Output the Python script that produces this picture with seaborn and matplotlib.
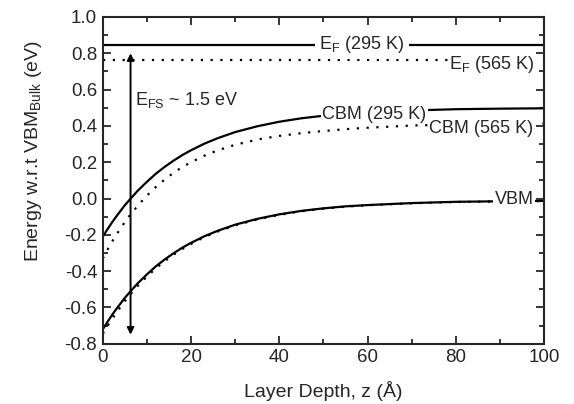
import numpy as np
import pandas as pd
import matplotlib
matplotlib.use("Agg")
import matplotlib.pyplot as plt
from matplotlib.ticker import MultipleLocator, FormatStrFormatter
import seaborn as sns

# Data (Layer depth in Angstrom, energies in eV)
z = [0, 1, 2, 3, 4, 5, 6, 8, 10, 12, 14, 16, 18, 20, 23, 26, 30, 35, 40,
     45, 50, 55, 60, 70, 80, 90, 100]
cbm_295 = [-0.21, -0.172, -0.135, -0.101, -0.069, -0.037, -0.009, 0.045, 0.092,
           0.136, 0.174, 0.208, 0.239, 0.266, 0.302, 0.332, 0.366, 0.398, 0.423,
           0.442, 0.456, 0.467, 0.474, 0.485, 0.492, 0.495, 0.497]
cbm_565 = [-0.33, -0.285, -0.242, -0.203, -0.165, -0.13, -0.097, -0.037, 0.016,
           0.063, 0.104, 0.141, 0.173, 0.2, 0.236, 0.265, 0.296, 0.325, 0.345,
           0.36, 0.372, 0.382, 0.39, 0.402, 0.408, 0.411, 0.413]
vbm_295 = [-0.72, -0.682, -0.645, -0.611, -0.579, -0.547, -0.519, -0.465, -0.418,
           -0.374, -0.336, -0.302, -0.271, -0.244, -0.208, -0.178, -0.144, -0.112,
           -0.087, -0.068, -0.054, -0.043, -0.036, -0.025, -0.018, -0.015, -0.013]
vbm_565 = [-0.745, -0.705, -0.667, -0.632, -0.598, -0.565, -0.535, -0.479, -0.43,
           -0.385, -0.345, -0.31, -0.278, -0.25, -0.213, -0.182, -0.148, -0.115,
           -0.09, -0.07, -0.056, -0.045, -0.037, -0.026, -0.019, -0.016, -0.014]
ef_295 = 0.848
ef_565 = 0.762
arrow_z = 6.3
arrow_top = 0.80
arrow_bottom = -0.75

df = pd.DataFrame({"z": z, "CBM (295 K)": cbm_295, "CBM (565 K)": cbm_565,
                   "VBM (295 K)": vbm_295, "VBM (565 K)": vbm_565})

sns.set_style("ticks")
plt.rcParams["font.family"] = ["Liberation Sans", "DejaVu Sans"]
plt.rcParams["mathtext.fontset"] = "custom"
plt.rcParams["mathtext.rm"] = "Liberation Sans"
plt.rcParams["mathtext.it"] = "Liberation Sans"

fig, ax = plt.subplots(figsize=(5.74, 4.04), dpi=100)
fig.subplots_adjust(left=0.179, right=0.948, top=0.958, bottom=0.149)

dots = (0, (1, 3.4))
sns.lineplot(data=df, x="z", y="CBM (295 K)", color="black", lw=1.6, ax=ax)
sns.lineplot(data=df, x="z", y="CBM (565 K)", color="black", lw=1.6, ls=dots, ax=ax)
sns.lineplot(data=df, x="z", y="VBM (295 K)", color="black", lw=1.6, ax=ax)
sns.lineplot(data=df, x="z", y="VBM (565 K)", color="black", lw=1.6, ls=dots, ax=ax)
ax.axhline(ef_295, color="black", lw=1.6)
ax.axhline(ef_565, color="black", lw=1.6, ls=dots)

ax.annotate("", xy=(arrow_z, arrow_top), xytext=(arrow_z, arrow_bottom),
            arrowprops=dict(arrowstyle="<|-|>", color="black", lw=1.4,
                            mutation_scale=10, shrinkA=0, shrinkB=0))

fs = 13
box = dict(facecolor="white", edgecolor="none", pad=1.0)
ax.text(58.7, ef_295, r"E$_{\rm F}$ (295 K)", fontsize=fs, ha="center", va="center",
        bbox=dict(facecolor="white", edgecolor="none", pad=3))
ax.text(88.2, 0.737, r"E$_{\rm F}$ (565 K)", fontsize=fs, ha="center", va="center", bbox=box)
ax.text(61.5, 0.465, "CBM (295 K)", fontsize=fs, ha="center", va="center", bbox=box)
ax.text(85.8, 0.388, "CBM (565 K)", fontsize=fs, ha="center", va="center", bbox=box)
ax.text(93.2, -0.005, "VBM", fontsize=fs, ha="center", va="center", bbox=box)
ax.text(7.3, 0.545, r"E$_{\rm FS}$ ~ 1.5 eV", fontsize=fs, ha="left", va="center")

ax.set_xlim(0, 100)
ax.set_ylim(-0.8, 1.0)
ax.xaxis.set_major_locator(MultipleLocator(20))
ax.xaxis.set_minor_locator(MultipleLocator(10))
ax.yaxis.set_major_locator(MultipleLocator(0.2))
ax.yaxis.set_minor_locator(MultipleLocator(0.1))
ax.yaxis.set_major_formatter(FormatStrFormatter("%.1f"))
ax.tick_params(which="both", direction="in", top=True, right=True, labelsize=13.5,
               width=1.3, pad=4)
ax.tick_params(which="major", length=6)
ax.tick_params(which="minor", length=3.5)
for s in ax.spines.values():
    s.set_linewidth(1.5)

ax.set_xlabel("Layer Depth, z (Å)", fontsize=14)
ax.set_ylabel(r"Energy w.r.t VBM$_{\rm Bulk}$ (eV)", fontsize=14)
ax.xaxis.set_label_coords(0.5, -0.115)
ax.yaxis.set_label_coords(-0.134, 0.59)

plt.savefig("out.png", dpi=100)
